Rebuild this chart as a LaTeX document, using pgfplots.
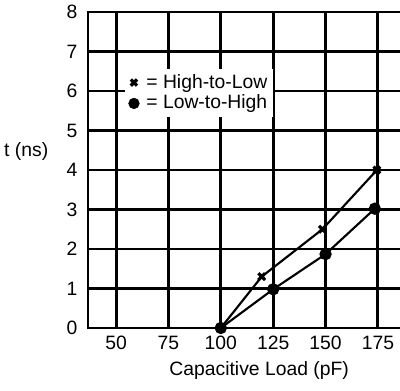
\documentclass[border=0pt]{standalone}
\usepackage{pgfplots}
\pgfplotsset{compat=1.18}
\usepackage{fontspec}
\setmainfont{Liberation Sans}
\begin{document}
\fontsize{14.5}{17}\selectfont
\begin{tikzpicture}
\begin{axis}[
  scale only axis,
  width=234.75pt, height=237pt,
  xmin=36.6, xmax=186, ymin=0, ymax=8,
  xtick={50,75,100,125,150,175},
  ytick={0,1,2,3,4,5,6,7,8},
  /pgf/number format/assume math mode=true,
  tick label style={font=\fontsize{14.5}{17}\selectfont},
  label style={font=\fontsize{14.5}{17}\selectfont},
  major tick length=0pt,
  grid=major,
  grid style={black, line width=2.2pt},
  axis line style={black, line width=2.2pt},
  xlabel={Capacitive Load (pF)},
  ylabel={t (ns)},
  ylabel style={rotate=-90, at={(rel axis cs:0,0.557)}, anchor=east, xshift=-24.75pt},
  xlabel style={yshift=1pt, xshift=11pt},
  xticklabel style={yshift=-1pt},
  yticklabel style={xshift=-3pt},
  legend style={draw=none, fill=white, at={(axis cs:54.3,6.57)}, anchor=north west,
    font=\fontsize{14.5}{17}\selectfont, inner sep=2pt, row sep=-1pt},
  legend cell align=left,
  legend image code/.code={\draw[#1] plot coordinates {(0.15cm,0cm)}; \path (0cm,0cm) (0.4cm,0cm);},
]
\addplot[black, line width=1.6pt, mark=x, mark size=3.6pt, mark options={line width=2.4pt}, forget plot]
  coordinates {(100,0) (119.5,1.3) (148.5,2.5) (174.5,4.0)};
\addplot[black, line width=1.6pt, mark=*, mark size=3.8pt, forget plot]
  coordinates {(100,0) (125,0.98) (150,1.87) (173.5,3.02)};
\addlegendimage{only marks, black, mark=x, mark size=3.3pt, mark options={line width=2.4pt}}
\addlegendentry{= High-to-Low}
\addlegendimage{only marks, black, mark=*, mark size=4pt}
\addlegendentry{= Low-to-High}
\end{axis}
\pgfresetboundingbox
\path[use as bounding box] ([shift={(-66pt,-47.25pt)}]current axis.south west) rectangle ([shift={(-0.75pt,9pt)}]current axis.north east);
\end{tikzpicture}
\end{document}
